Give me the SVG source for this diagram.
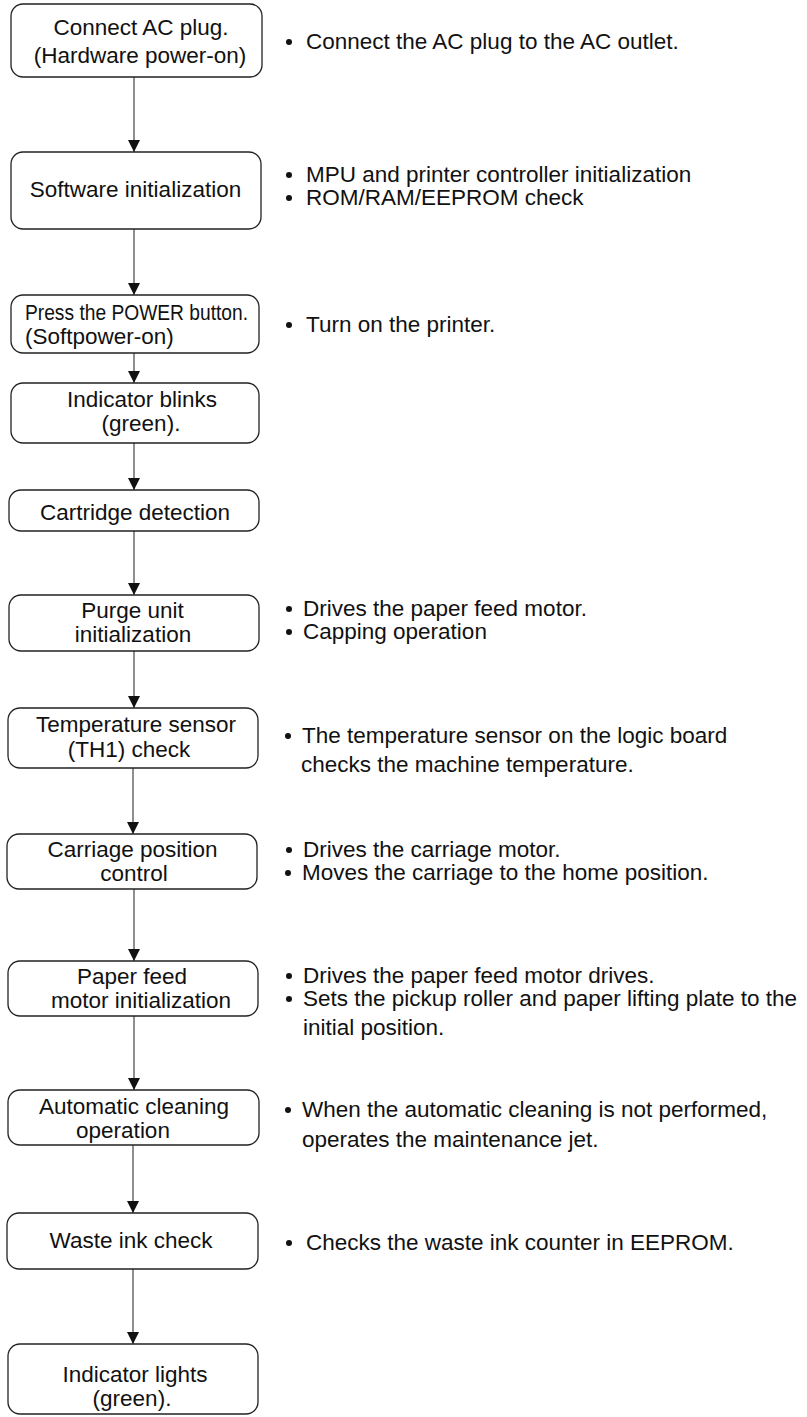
<svg xmlns="http://www.w3.org/2000/svg" width="807" height="1417" viewBox="0 0 807 1417">
<style>
.box{fill:#fff;stroke:#222;stroke-width:1.3}
.t{font-family:"Liberation Sans",Arial,sans-serif;font-size:22.5px;fill:#111}
.c{text-anchor:middle}
.ln{stroke:#333;stroke-width:1.1;fill:none}
.dot{fill:#111}
</style>
<defs>
<marker id="arr" markerUnits="userSpaceOnUse" markerWidth="12" markerHeight="13" viewBox="0 0 12 12" refX="12" refY="6" orient="auto">
<path d="M0,0 L12,6 L0,12 Z" fill="#111"/>
</marker>
</defs>
<rect width="807" height="1417" fill="#fff"/>
<g id="connectors">
<path class="ln" d="M134,77 V152" marker-end="url(#arr)"/>
<path class="ln" d="M134,229 V295" marker-end="url(#arr)"/>
<path class="ln" d="M134,353 V383" marker-end="url(#arr)"/>
<path class="ln" d="M134,443 V490" marker-end="url(#arr)"/>
<path class="ln" d="M134,531 V595" marker-end="url(#arr)"/>
<path class="ln" d="M134,651 V708" marker-end="url(#arr)"/>
<path class="ln" d="M133,768 V834" marker-end="url(#arr)"/>
<path class="ln" d="M134,889 V961" marker-end="url(#arr)"/>
<path class="ln" d="M134,1016 V1090" marker-end="url(#arr)"/>
<path class="ln" d="M133,1145 V1213" marker-end="url(#arr)"/>
<path class="ln" d="M133,1269 V1344" marker-end="url(#arr)"/>
</g>
<g id="n1">
<rect class="box" x="11" y="4" width="251" height="73" rx="12"/>
<text class="t c" x="141" y="35">Connect AC plug.</text>
<text class="t c" x="140" y="63">(Hardware power-on)</text>
</g>
<g id="n1note">
<circle class="dot" cx="289" cy="42" r="3"/>
<text class="t" x="306" y="49">Connect the AC plug to the AC outlet.</text>
</g>
<g id="n2">
<rect class="box" x="11" y="152" width="250" height="77" rx="12"/>
<text class="t c" x="135.5" y="197">Software initialization</text>
</g>
<g id="n2note">
<circle class="dot" cx="289" cy="175" r="3"/>
<text class="t" x="306" y="182">MPU and printer controller initialization</text>
<circle class="dot" cx="289" cy="198" r="3"/>
<text class="t" x="306" y="205">ROM/RAM/EEPROM check</text>
</g>
<g id="n3">
<rect class="box" x="11" y="295" width="248" height="58" rx="12"/>
<text class="t" x="25" y="320" textLength="223" lengthAdjust="spacingAndGlyphs">Press the POWER button.</text>
<text class="t" x="25" y="344">(Softpower-on)</text>
</g>
<g id="n3note">
<circle class="dot" cx="289" cy="325" r="3"/>
<text class="t" x="306" y="332">Turn on the printer.</text>
</g>
<g id="n4">
<rect class="box" x="11" y="383" width="248" height="60" rx="12"/>
<text class="t c" x="142" y="407">Indicator blinks</text>
<text class="t c" x="141" y="431">(green).</text>
</g>
<g id="n5">
<rect class="box" x="9" y="490" width="250" height="41" rx="12"/>
<text class="t c" x="135" y="520">Cartridge detection</text>
</g>
<g id="n6">
<rect class="box" x="9" y="595" width="250" height="56" rx="12"/>
<text class="t c" x="132.5" y="618">Purge unit</text>
<text class="t c" x="133" y="642">initialization</text>
</g>
<g id="n6note">
<circle class="dot" cx="289" cy="609" r="3"/>
<text class="t" x="303" y="616">Drives the paper feed motor.</text>
<circle class="dot" cx="289" cy="632" r="3"/>
<text class="t" x="303" y="639">Capping operation</text>
</g>
<g id="n7">
<rect class="box" x="8" y="708" width="250" height="60" rx="12"/>
<text class="t c" x="136" y="732">Temperature sensor</text>
<text class="t c" x="129" y="757">(TH1) check</text>
</g>
<g id="n7note">
<circle class="dot" cx="288" cy="736" r="3"/>
<text class="t" x="302" y="743">The temperature sensor on the logic board</text>
<text class="t" x="301" y="772">checks the machine temperature.</text>
</g>
<g id="n8">
<rect class="box" x="7" y="834" width="250" height="55" rx="12"/>
<text class="t c" x="132.5" y="857">Carriage position</text>
<text class="t c" x="134" y="881">control</text>
</g>
<g id="n8note">
<circle class="dot" cx="289" cy="850" r="3"/>
<text class="t" x="303" y="857">Drives the carriage motor.</text>
<circle class="dot" cx="288" cy="873" r="3"/>
<text class="t" x="302" y="880">Moves the carriage to the home position.</text>
</g>
<g id="n9">
<rect class="box" x="8" y="961" width="250" height="55" rx="12"/>
<text class="t c" x="132" y="984">Paper feed</text>
<text class="t c" x="141" y="1008">motor initialization</text>
</g>
<g id="n9note">
<circle class="dot" cx="289" cy="976" r="3"/>
<text class="t" x="303" y="983">Drives the paper feed motor drives.</text>
<circle class="dot" cx="289" cy="999" r="3"/>
<text class="t" x="303" y="1006">Sets the pickup roller and paper lifting plate to the</text>
<text class="t" x="303" y="1035">initial position.</text>
</g>
<g id="n10">
<rect class="box" x="8" y="1090" width="251" height="55" rx="12"/>
<text class="t c" x="134" y="1114">Automatic cleaning</text>
<text class="t c" x="123" y="1138">operation</text>
</g>
<g id="n10note">
<circle class="dot" cx="288" cy="1110" r="3"/>
<text class="t" x="302" y="1117">When the automatic cleaning is not performed,</text>
<text class="t" x="302" y="1147">operates the maintenance jet.</text>
</g>
<g id="n11">
<rect class="box" x="7" y="1213" width="251" height="56" rx="12"/>
<text class="t c" x="131" y="1248">Waste ink check</text>
</g>
<g id="n11note">
<circle class="dot" cx="289" cy="1243" r="3"/>
<text class="t" x="306" y="1250">Checks the waste ink counter in EEPROM.</text>
</g>
<g id="n12">
<rect class="box" x="8" y="1344" width="250" height="70" rx="12"/>
<text class="t c" x="135" y="1382">Indicator lights</text>
<text class="t c" x="132" y="1406">(green).</text>
</g>
</svg>
